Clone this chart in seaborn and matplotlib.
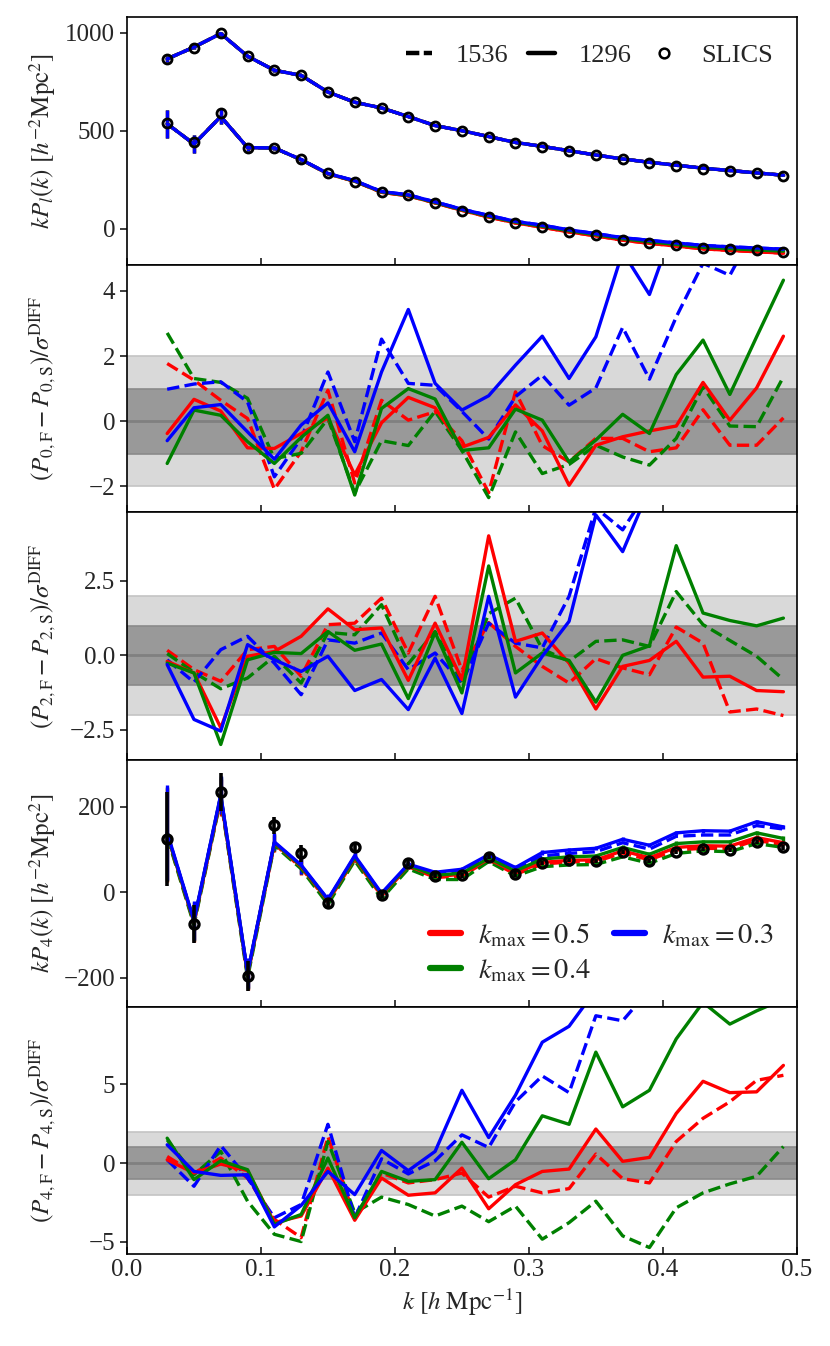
import numpy as np
import matplotlib
matplotlib.use("Agg")
import matplotlib.pyplot as plt
import seaborn as sns
from matplotlib.lines import Line2D

sns.set_theme(style="ticks")
plt.rcParams["font.family"] = ["Liberation Serif", "DejaVu Serif"]
plt.rcParams["mathtext.fontset"] = "stix"
plt.rcParams["font.size"] = 18
plt.rcParams["axes.labelsize"] = 18
plt.rcParams["xtick.labelsize"] = 18
plt.rcParams["ytick.labelsize"] = 18
plt.rcParams["xtick.direction"] = "in"
plt.rcParams["ytick.direction"] = "out"
plt.rcParams["xtick.major.size"] = 5
plt.rcParams["ytick.major.size"] = 5
plt.rcParams["axes.linewidth"] = 1.2

# ---- data -------------------------------------------------------------
k = [0.03, 0.05, 0.07, 0.09, 0.11, 0.13, 0.15, 0.17, 0.19, 0.21, 0.23, 0.25,
     0.27, 0.29, 0.31, 0.33, 0.35, 0.37, 0.39, 0.41, 0.43, 0.45, 0.47, 0.49]

kmax_labels = ["0.5", "0.4", "0.3"]
colors = ["red", "green", "blue"]

# panel 1: k P_l(k), SLICS measurements
slics_p0 = [864, 924, 997, 881, 808, 783, 698, 644, 617, 571, 525, 500,
            469, 439, 419, 397, 375, 354, 337, 322, 307, 295, 283, 271]
slics_p2 = [537, 441, 588, 414, 414, 356, 283, 241, 185, 170, 130, 91,
            59, 29, 8, -14, -34, -56, -70, -83, -97, -103, -110, -119]
err_p0 = [15, 12, 10, 8, 7, 6, 5, 5, 5, 4, 4, 4, 4, 4, 4, 4, 4, 4, 4, 4, 4, 4, 4, 4]
err_p2 = [71, 47, 38, 15, 12, 10, 8, 6, 6, 5, 5, 5, 5, 5, 5, 5, 5, 5, 5, 5, 5, 5, 5, 5]

model_p0 = [866, 926, 995, 880, 808, 782, 697, 645, 616, 572, 526, 500,
            470, 440, 420, 398, 376, 356, 339, 324, 309, 297, 285, 273]
model_p2 = {
    "0.5": [535, 432, 572, 414, 412, 352, 280, 242, 186, 168, 132, 94,
            60, 30, 8, -16, -36, -58, -74, -88, -102, -110, -117, -124],
    "0.4": [535, 432, 572, 414, 412, 352, 281, 243, 188, 170, 134, 97,
            64, 34, 13, -10, -30, -51, -66, -80, -94, -101, -108, -114],
    "0.3": [535, 432, 572, 414, 412, 353, 282, 245, 190, 173, 137, 100,
            68, 38, 18, -5, -25, -45, -59, -72, -85, -92, -98, -104],
}

# panel 2: monopole difference / sigma
d0_1296 = {
    "0.5": [-0.38, 0.67, 0.31, -0.82, -0.84, -0.38, 0.10, -1.65, -0.05, 0.73, 0.41, -0.80,
            -0.50, 0.50, -0.30, -1.97, -0.74, -0.48, -0.30, -0.15, 1.19, 0.03, 1.02, 2.61],
    "0.4": [-1.30, 0.34, 0.18, -0.63, -1.30, -0.50, 0.18, -2.27, 0.39, 1.00, 0.68, -0.90,
            -0.82, 0.37, 0.03, -1.25, -0.58, 0.21, -0.38, 1.43, 2.49, 0.82, 2.59, 4.33],
    "0.3": [-0.60, 0.41, 0.51, -0.33, -1.17, -0.12, 0.56, -0.94, 1.51, 3.43, 1.16, 0.34,
            0.78, 1.72, 2.61, 1.31, 2.59, 5.20, 3.89, 6.20, 6.60, 7.00, 7.40, 7.80],
}
d0_1536 = {
    "0.5": [1.77, 1.26, 0.64, 0.08, -2.09, -0.94, 0.95, -1.90, 0.64, 0.03, 0.29, -0.60,
            -2.20, 0.90, -0.75, -1.25, -0.53, -0.53, -0.94, -0.82, 0.35, -0.74, -0.74, 0.10],
    "0.4": [2.71, 1.31, 1.19, 0.70, -1.15, -0.99, 0.08, -2.20, -0.60, -0.75, 0.30, -0.90,
            -2.35, -0.33, -1.61, -1.33, -0.74, -1.10, -1.35, -0.53, 1.05, -0.15, -0.17, 1.36],
    "0.3": [0.98, 1.14, 1.21, 0.59, -1.71, -0.53, 1.51, -0.63, 2.52, 1.16, 1.10, 0.30,
            -0.55, 0.75, 1.41, 0.49, 1.02, 2.88, 1.29, 3.20, 4.85, 4.48, 6.00, 6.50],
}

# panel 3: quadrupole difference / sigma
d2_1296 = {
    "0.5": [-0.20, -0.59, -2.43, -0.03, 0.13, 0.64, 1.56, 0.86, 0.92, -0.84, 1.08, -0.81,
            4.01, 0.47, 0.75, -0.26, -1.80, -0.37, -0.17, 0.47, -0.73, -0.70, -1.18, -1.22],
    "0.4": [-0.26, -0.59, -2.99, -0.15, 0.10, 0.06, 0.80, 0.17, 0.38, -1.45, 0.77, -1.26,
            3.00, -0.59, 0.08, -0.17, -1.57, 0.00, 0.32, 3.68, 1.42, 1.17, 0.99, 1.25],
    "0.3": [-0.31, -2.15, -2.54, 0.36, -0.15, -0.54, -0.03, -1.18, -0.81, -1.82, -0.09, -1.95,
            1.98, -1.40, -0.03, 1.14, 4.71, 3.48, 5.60, 6.20, 6.60, 7.00, 7.40, 7.80],
}
d2_1536 = {
    "0.5": [0.17, -0.48, -0.87, 0.19, 0.30, -0.70, 1.03, 1.08, 1.92, 0.08, 1.98, -0.50,
            1.10, 0.30, -0.37, -0.93, -0.11, -0.42, -0.65, 0.95, 0.41, -1.90, -1.80, -2.02],
    "0.4": [0.06, -0.57, -1.12, -0.76, -0.03, -0.93, 0.77, 0.69, 1.70, -0.28, 0.80, -0.93,
            1.40, 1.92, 0.21, -0.20, 0.47, 0.52, 0.30, 2.14, 1.03, 0.50, -0.03, -0.81],
    "0.3": [-0.15, -0.90, 0.19, 0.64, -0.26, -1.32, 0.52, 0.41, 0.75, -0.48, 0.08, -0.93,
            1.08, 0.41, 0.25, 1.98, 4.95, 4.21, 5.60, 6.20, 6.60, 7.00, 7.40, 7.80],
}

# panel 4: k P_4(k)
slics_p4 = [124, -74, 235, -195, 157, 91, -26, 105, -6, 69, 39, 40,
            83, 43, 68, 75, 73, 94, 74, 95, 101, 99, 117, 105]
err_p4 = [110, 45, 44, 35, 20, 20, 12, 10, 8, 7, 6, 6, 6, 6, 5, 5, 5, 5, 5, 5, 5, 5, 5, 5]
p4_1296 = {
    "0.5": [135, -70, 222, -192, 115, 60, -20, 80, -6, 62, 37, 42,
            78, 46, 70, 75, 76, 97, 81, 105, 109, 108, 128, 116],
    "0.4": [136, -68, 226, -190, 116, 62, -18, 82, -4, 63, 40, 45,
            80, 50, 78, 83, 85, 105, 89, 114, 118, 118, 139, 126],
    "0.3": [140, -66, 228, -188, 118, 64, -16, 86, -2, 66, 47, 54,
            88, 58, 93, 99, 103, 124, 110, 139, 144, 143, 165, 153],
}
p4_1536 = {
    "0.5": [132, -72, 220, -194, 113, 58, -22, 78, -8, 60, 35, 38,
            76, 42, 66, 71, 72, 92, 76, 99, 103, 102, 122, 110],
    "0.4": [130, -76, 218, -200, 110, 55, -28, 74, -15, 55, 30, 30,
            72, 38, 60, 64, 65, 83, 68, 91, 97, 95, 114, 105],
    "0.3": [138, -68, 226, -190, 116, 62, -18, 84, -4, 64, 44, 50,
            85, 54, 85, 91, 95, 116, 101, 131, 134, 134, 156, 148],
}

# panel 5: hexadecapole difference / sigma
d4_1296 = {
    "0.5": [0.21, -0.63, -0.06, -0.48, -3.78, -3.36, -0.32, -3.63, -0.95, -2.04, -1.89, -0.32,
            -2.90, -1.37, -0.53, -0.38, 2.16, 0.11, 0.36, 3.15, 5.19, 4.47, 4.52, 6.20],
    "0.4": [1.58, -1.05, 0.15, -0.42, -3.89, -3.26, 0.32, -3.47, -0.53, -1.16, -1.05, 1.32,
            -0.99, 0.21, 3.00, 2.46, 7.04, 3.57, 4.62, 7.88, 10.2, 8.82, 9.66, 10.4],
    "0.3": [1.16, -0.53, -0.78, -0.74, -4.05, -2.69, -0.53, -2.00, 0.80, -0.48, 0.74, 4.62,
            1.62, 4.31, 7.67, 8.68, 11.0, 11.5, 12.0, 12.5, 13.0, 13.5, 14.0, 14.5],
}
d4_1536 = {
    "0.5": [0.42, -0.63, 0.32, -0.95, -3.57, -4.73, 1.68, -3.47, -0.63, -1.26, -1.05, -0.63,
            -2.16, -1.47, -1.89, -1.62, 0.57, -0.99, -1.26, 1.37, 2.84, 3.89, 5.25, 5.57],
    "0.4": [1.47, -0.74, 0.74, -2.42, -4.52, -4.98, 1.37, -3.15, -2.16, -2.63, -3.36, -2.73,
            -3.72, -2.73, -4.83, -3.78, -2.42, -4.62, -5.36, -2.84, -1.89, -1.32, -0.84, 1.05],
    "0.3": [0.21, -1.47, 1.11, -0.95, -3.47, -2.63, 2.46, -3.47, 0.27, -0.69, 0.15, 1.79,
            0.99, 3.89, 5.53, 4.47, 9.35, 9.03, 11.0, 11.5, 12.0, 12.5, 13.0, 13.5],
}

# ---- helpers ----------------------------------------------------------
LW = 2.4


def draw_line(ax, y, color, ls):
    sns.lineplot(x=k, y=y, ax=ax, color=color, linestyle=ls, lw=LW,
                 legend=False, errorbar=None, sort=False)


def draw_bands(ax):
    ax.axhspan(-2, 2, color="#d9d9d9", lw=0, zorder=0)
    ax.axhspan(-1, 1, color="#999999", lw=0, zorder=0)
    for yv, c in [(-2, "#c4c4c4"), (2, "#c4c4c4"), (-1, "#8a8a8a"), (1, "#8a8a8a")]:
        ax.axhline(yv, color=c, lw=1.2, zorder=0.5)
    ax.axhline(0, color="#808080", lw=2.0, zorder=0.5)


def draw_diff(ax, solid, dashed):
    draw_bands(ax)
    for kl, c in zip(kmax_labels, colors):
        draw_line(ax, dashed[kl], c, "--")
    for kl, c in zip(kmax_labels, colors):
        draw_line(ax, solid[kl], c, "-")


# ---- figure -----------------------------------------------------------
fig, axes = plt.subplots(5, 1, figsize=(8.3, 13.46), dpi=100, sharex=True)
fig.subplots_adjust(left=0.153, right=0.960, top=0.987, bottom=0.068, hspace=0)

# panel 1
ax = axes[0]
for kl, c in zip(kmax_labels, colors):
    ax.errorbar(k, model_p0, yerr=err_p0, color=c, lw=LW, elinewidth=LW, capsize=0)
    ax.errorbar(k, model_p2[kl], yerr=err_p2, color=c, lw=LW, elinewidth=LW, capsize=0)
for kl, c in zip(kmax_labels, colors):
    draw_line(ax, model_p0, c, "--")
    draw_line(ax, model_p2[kl], c, "--")
for yv in (slics_p0, slics_p2):
    ax.plot(k, yv, "o", ms=6.5, mfc="none", mec="black", mew=2.0, zorder=5)
ax.set_ylim(-184, 1077)
ax.set_yticks([0, 500, 1000])
ax.set_ylabel(r"$kP_l(k)\ [h^{-2}\mathrm{Mpc}^2]$")
handles = [Line2D([], [], color="black", ls=(0, (3.0, 1.0)), lw=3.2),
           Line2D([], [], color="black", ls="-", lw=3.2),
           Line2D([], [], color="black", ls="none", marker="o", ms=7,
                  mfc="none", mew=1.8)]
ax.legend(handles, ["1536", "1296", "SLICS"], ncol=3, frameon=False,
          loc="upper right", bbox_to_anchor=(1.0, 0.99), handlelength=1.0,
          handletextpad=0.9, columnspacing=0.75, fontsize=19)

# panel 2
ax = axes[1]
draw_diff(ax, d0_1296, d0_1536)
ax.set_ylim(-2.8, 4.8)
ax.set_yticks([-2, 0, 2, 4])
ax.set_ylabel(r"$(P_{0,\mathrm{F}}-P_{0,\mathrm{S}})/\sigma^{\mathrm{DIFF}}$")

# panel 3
ax = axes[2]
draw_diff(ax, d2_1296, d2_1536)
ax.set_ylim(-3.5, 4.8)
ax.set_yticks([-2.5, 0, 2.5])
ax.set_yticklabels(["\u22122.5", "0.0", "2.5"])
ax.set_ylabel(r"$(P_{2,\mathrm{F}}-P_{2,\mathrm{S}})/\sigma^{\mathrm{DIFF}}$")

# panel 4
ax = axes[3]
for kl, c in zip(kmax_labels, colors):
    ax.errorbar(k, p4_1296[kl], yerr=err_p4, color=c, lw=LW, elinewidth=LW, capsize=0)
for kl, c in zip(kmax_labels, colors):
    draw_line(ax, p4_1536[kl], c, "--")
ax.errorbar(k, slics_p4, yerr=err_p4, fmt="o", ms=6.5, mfc="none", mec="black",
            mew=2.4, ecolor="black", elinewidth=2.6, capsize=0, zorder=5)
ax.set_ylim(-268, 310)
ax.set_yticks([-200, 0, 200])
ax.set_ylabel(r"$kP_4(k)\ [h^{-2}\mathrm{Mpc}^2]$")
leg_handles = [Line2D([], [], color=c, lw=4.5) for c in colors]
ax.legend(leg_handles, [r"$k_{\mathrm{max}}=%s$" % kl for kl in kmax_labels],
          ncol=2, frameon=False, loc="lower right", handlelength=1.1,
          handletextpad=0.6, columnspacing=0.8, fontsize=20.5,
          labelspacing=0.3, borderaxespad=0.4)

# panel 5
ax = axes[4]
draw_diff(ax, d4_1296, d4_1536)
ax.set_ylim(-5.8, 9.9)
ax.set_yticks([-5, 0, 5])
ax.set_ylabel(r"$(P_{4,\mathrm{F}}-P_{4,\mathrm{S}})/\sigma^{\mathrm{DIFF}}$")
ax.set_xlabel(r"$k\ [h\ \mathrm{Mpc}^{-1}]$")

for ax in axes:
    ax.set_xlim(0, 0.5)
    for s in ax.spines.values():
        s.set_visible(True)
        s.set_color("black")
axes[-1].set_xticks([0.0, 0.1, 0.2, 0.3, 0.4, 0.5])
fig.align_ylabels(axes)

fig.savefig("out.png", dpi=100)
